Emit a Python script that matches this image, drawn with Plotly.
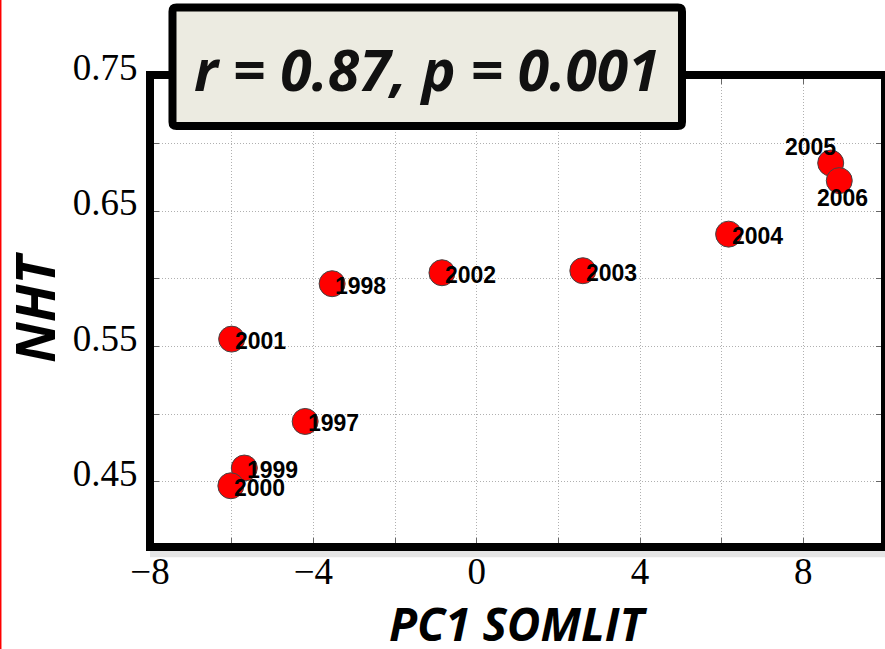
import plotly.graph_objects as go

# ---- data ----
years = ["1997", "1998", "1999", "2000", "2001", "2002", "2003", "2004", "2005", "2006"]
pc1_somlit = [-4.20, -3.54, -5.69, -6.02, -6.00, -0.85, 2.60, 6.17, 8.67, 8.88]
nht = [0.4947, 0.5964, 0.4603, 0.4472, 0.5555, 0.6045, 0.606, 0.633, 0.6855, 0.6725]

x_tickvals = [-8, -6, -4, -2, 0, 2, 4, 6, 8]
x_ticktext = ["\u22128", "", "\u22124", "", "0", "", "4", "", "8"]
y_tickvals = [0.45, 0.50, 0.55, 0.60, 0.65, 0.70, 0.75]
y_ticktext = ["0.45", "", "0.55", "", "0.65", "", "0.75"]

stat_text = "r = 0.87, p = 0.001"
x_title = "PC1 SOMLIT"
y_title = "NHT"

# ---- label placement styles (not data) ----
default_lbl = dict(xanchor="left", yanchor="middle", xshift=1, yshift=-2)
special_lbl = {
    "2005": dict(xanchor="right", yanchor="middle", xshift=7, yshift=16),
    "2006": dict(xanchor="center", yanchor="middle", xshift=3, yshift=-17),
}

fig = go.Figure()
fig.add_trace(go.Scatter(
    x=pc1_somlit, y=nht, mode="markers",
    marker=dict(size=26, color="#ff0000", line=dict(width=1, color="#444444")),
    hoverinfo="skip", showlegend=False,
))

annotations = []
for yr, xv, yv in zip(years, pc1_somlit, nht):
    st = special_lbl.get(yr, default_lbl)
    annotations.append(dict(
        x=xv, y=yv, xref="x", yref="y", text=yr, showarrow=False,
        font=dict(family="Liberation Sans, Arial", size=23, color="black", weight="bold"),
        **st,
    ))

# stats box text
annotations.append(dict(
    x=0.377, y=1.012, xref="paper", yref="paper", text="<b><i>" + stat_text + "</i></b>",
    showarrow=False, xanchor="center", yanchor="middle",
    font=dict(family="Open Sans", size=57, color="#111111"),
))
# axis titles
annotations.append(dict(
    x=0.5, y=-0.162, xref="paper", yref="paper", text="<b><i>" + x_title + "</i></b>",
    showarrow=False, xanchor="center", yanchor="middle",
    font=dict(family="Open Sans", size=46, color="black"),
))
annotations.append(dict(
    x=-0.158, y=0.508, xref="paper", yref="paper", text="<b><i>" + y_title + "</i></b>",
    showarrow=False, xanchor="center", yanchor="middle", textangle=-90,
    font=dict(family="Open Sans", size=54, color="black"),
))

# rounded box path in paper coords
bx0, bx1, by0, by1 = 0.0306, 0.7238, 0.892, 1.143
rx, ry = 0.0055, 0.0085
box_path = (f"M {bx0+rx},{by0} L {bx1-rx},{by0} Q {bx1},{by0} {bx1},{by0+ry} "
            f"L {bx1},{by1-ry} Q {bx1},{by1} {bx1-rx},{by1} L {bx0+rx},{by1} "
            f"Q {bx0},{by1} {bx0},{by1-ry} L {bx0},{by0+ry} Q {bx0},{by0} {bx0+rx},{by0} Z")

shapes = [
    # shadow below bottom border
    dict(type="rect", xref="paper", yref="paper", x0=0.0, x1=1.0, y0=-0.0215, y1=-0.008,
         fillcolor="rgba(0,0,0,0.10)", line=dict(width=0), layer="below"),
    # plot frame
    dict(type="rect", xref="paper", yref="paper", x0=0, x1=1, y0=0, y1=1,
         line=dict(color="black", width=8), fillcolor="rgba(0,0,0,0)", layer="above"),
    # stats box
    dict(type="path", xref="paper", yref="paper", path=box_path,
         fillcolor="#ecebe1", line=dict(color="black", width=8), layer="above"),
    # red line at left edge
    dict(type="line", xref="paper", yref="paper", x0=-0.2031, x1=-0.2031, y0=-0.25, y1=1.2,
         line=dict(color="#ff0000", width=1.5), layer="above"),
]

fig.update_layout(
    width=885, height=649,
    margin=dict(l=150, r=0, t=75, b=102, autoexpand=False),
    paper_bgcolor="white", plot_bgcolor="white",
    showlegend=False,
    annotations=annotations,
    shapes=shapes,
    xaxis=dict(
        range=[-8, 10], tickvals=x_tickvals, ticktext=x_ticktext,
        showgrid=True, gridcolor="#b0b0b0", griddash="1px,2px", gridwidth=1,
        zeroline=False, showline=True, linecolor="rgba(0,0,0,0)", linewidth=1, mirror="ticks",
        ticks="inside", ticklen=9, tickcolor="#666666", tickwidth=1,
        tickfont=dict(family="Liberation Serif", size=37, color="black"),
        ticklabelstandoff=-8, automargin=False,
    ),
    yaxis=dict(
        range=[0.402, 0.7505], tickvals=y_tickvals, ticktext=y_ticktext,
        showgrid=True, gridcolor="#b0b0b0", griddash="1px,2px", gridwidth=1,
        zeroline=False, showline=True, linecolor="rgba(0,0,0,0)", linewidth=1, mirror="ticks",
        ticks="inside", ticklen=9, tickcolor="#666666", tickwidth=1,
        tickfont=dict(family="Liberation Serif", size=37, color="black"),
        ticklabelstandoff=4, ticklabelshift=-9, automargin=False,
    ),
)

fig.write_html("out.html")
